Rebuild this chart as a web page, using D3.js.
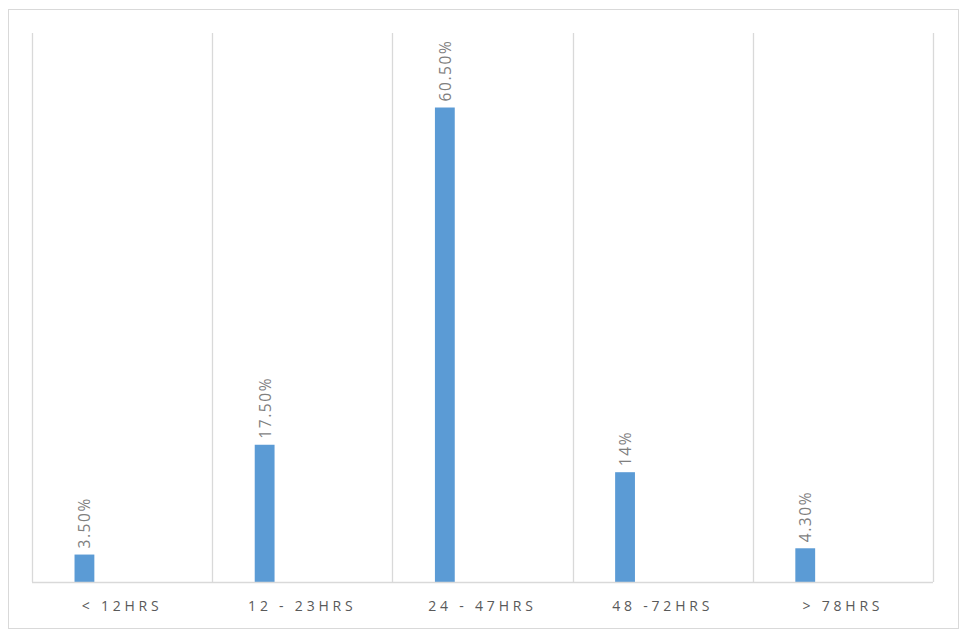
<!DOCTYPE html>
<html>
<head>
<meta charset="utf-8">
<script src="https://cdn.jsdelivr.net/npm/d3@7"></script>
<style>
  body { margin: 0; background: #fff; }
  svg { display: block; font-family: "Open Sans", "DejaVu Sans", sans-serif; }
</style>
</head>
<body>
<div id="chart"></div>
<script>
// categories and values (percent)
const categories = ['< 12HRS', '12 - 23HRS', '24 - 47HRS', '48 -72HRS', '> 78HRS'];
const values = [3.5, 17.5, 60.5, 14, 4.3];
const valueLabels = ['3.50%', '17.50%', '60.50%', '14%', '4.30%'];
const yMax = 70;

const width = 968, height = 638;
const margin = { top: 33, right: 35, bottom: 56, left: 32 };

const svg = d3.select('#chart').append('svg')
    .attr('width', width)
    .attr('height', height);

// outer chart border
svg.append('rect')
    .attr('x', 8.5).attr('y', 9.5)
    .attr('width', 950).attr('height', 619)
    .attr('fill', 'none')
    .attr('stroke', '#d9d9d9');

const x = d3.scaleBand()
    .domain(categories)
    .range([margin.left, width - margin.right])
    .padding(0);

const y = d3.scaleLinear()
    .domain([0, yMax])
    .range([height - margin.bottom, margin.top]);

const g = svg.append('g');

// vertical gridlines at category boundaries
const bounds = categories.map(c => x(c)).concat([x.range()[1]]);
g.selectAll('.grid')
    .data(bounds)
    .enter()
    .append('line')
    .attr('x1', d => Math.round(d) + 0.5)
    .attr('x2', d => Math.round(d) + 0.5)
    .attr('y1', y(yMax))
    .attr('y2', y(0))
    .attr('stroke', '#d9d9d9')
    .attr('stroke-width', 1.3);

// bars sit left of centre (first slot of a cluster)
const barOffset = 0.236, barWidth = 0.11;
g.selectAll('.bar')
    .data(values)
    .enter()
    .append('rect')
    .attr('x', (d, i) => x(categories[i]) + x.bandwidth() * barOffset)
    .attr('width', x.bandwidth() * barWidth)
    .attr('y', d => y(d))
    .attr('height', d => y(0) - y(d))
    .attr('fill', '#5b9bd5');

// rotated value labels
g.selectAll('.val')
    .data(values)
    .enter()
    .append('text')
    .attr('transform', (d, i) => {
        const cx = x(categories[i]) + x.bandwidth() * (barOffset + barWidth / 2);
        return `translate(${cx + 6}, ${y(d) - 6}) rotate(-90)`;
    })
    .attr('text-anchor', 'start')
    .attr('font-size', 15.5)
    .attr('letter-spacing', 1.6)
    .attr('fill', '#7f7f7f')
    .text((d, i) => valueLabels[i]);

// x axis baseline
g.append('line')
    .attr('x1', x.range()[0])
    .attr('x2', x.range()[1])
    .attr('y1', y(0) + 0.5)
    .attr('y2', y(0) + 0.5)
    .attr('stroke', '#d9d9d9')
    .attr('stroke-width', 1.3);

// category labels
g.selectAll('.cat')
    .data(categories)
    .enter()
    .append('text')
    .attr('x', d => x(d) + x.bandwidth() / 2)
    .attr('y', y(0) + 29)
    .attr('text-anchor', 'middle')
    .attr('font-size', 14)
    .attr('letter-spacing', 3.8)
    .attr('fill', '#595959')
    .text(d => d);
</script>
</body>
</html>
